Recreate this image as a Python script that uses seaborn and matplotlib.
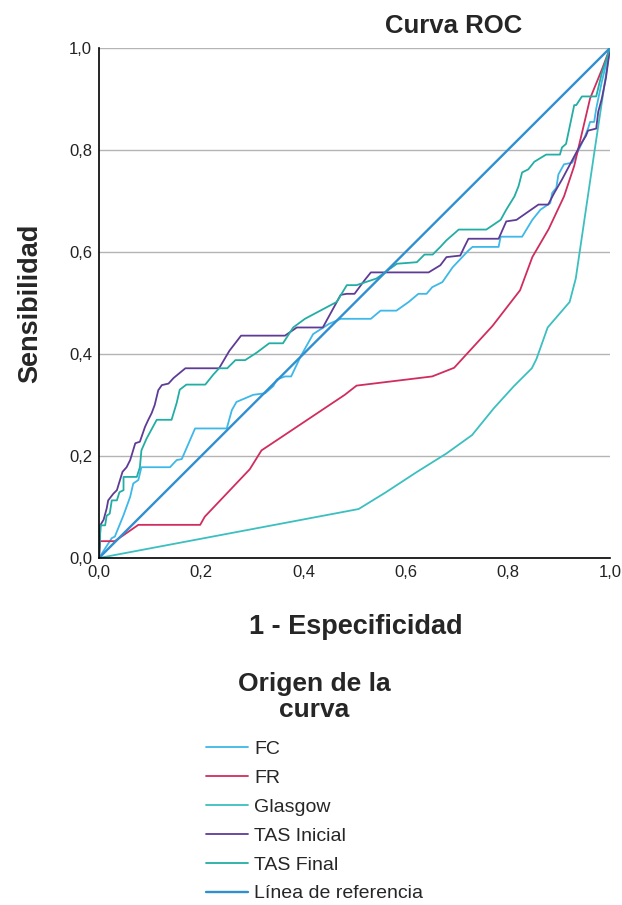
import numpy as np
import pandas as pd
import matplotlib
matplotlib.use("Agg")
import matplotlib.pyplot as plt
import seaborn as sns
from matplotlib.ticker import FuncFormatter

# Curve points (1 - especificidad, sensibilidad)
fc_x = [0.0, 0.025, 0.031, 0.048, 0.061, 0.067, 0.077, 0.083, 0.139, 0.152, 0.162, 0.188, 0.250,
        0.260, 0.269, 0.302, 0.325, 0.341, 0.348, 0.364, 0.376, 0.395, 0.419, 0.450, 0.473, 0.532,
        0.551, 0.582, 0.606, 0.625, 0.641, 0.652, 0.672, 0.692, 0.723, 0.731, 0.782, 0.786, 0.828,
        0.848, 0.864, 0.883, 0.887, 0.895, 0.899, 0.910, 0.926, 0.938, 0.949, 0.957, 0.961, 0.969,
        0.973, 0.984, 1.0]
fc_y = [0.0, 0.039, 0.042, 0.084, 0.120, 0.146, 0.153, 0.178, 0.178, 0.192, 0.194, 0.254, 0.254,
        0.290, 0.306, 0.320, 0.323, 0.337, 0.350, 0.356, 0.356, 0.396, 0.439, 0.459, 0.469, 0.469,
        0.485, 0.485, 0.502, 0.518, 0.518, 0.531, 0.541, 0.570, 0.603, 0.610, 0.610, 0.630, 0.630,
        0.663, 0.683, 0.696, 0.716, 0.726, 0.752, 0.772, 0.775, 0.799, 0.822, 0.842, 0.855, 0.855,
        0.881, 0.934, 1.0]

fr_x = [0.0, 0.002, 0.008, 0.031, 0.077, 0.198, 0.207, 0.295, 0.318, 0.354, 0.481, 0.504, 0.652,
        0.695, 0.770, 0.824, 0.848, 0.880, 0.910, 0.930, 0.961, 0.985, 1.0]
fr_y = [0.0, 0.033, 0.033, 0.033, 0.065, 0.065, 0.081, 0.174, 0.211, 0.235, 0.320, 0.338, 0.356,
        0.373, 0.455, 0.525, 0.590, 0.645, 0.709, 0.769, 0.901, 0.960, 1.0]

glasgow_x = [0.0, 0.508, 0.560, 0.621, 0.680, 0.730, 0.773, 0.812, 0.847, 0.856, 0.878, 0.921,
             0.933, 0.970, 1.0]
glasgow_y = [0.0, 0.096, 0.128, 0.168, 0.205, 0.241, 0.294, 0.337, 0.372, 0.390, 0.452, 0.502,
             0.548, 0.800, 1.0]

tas_ini_x = [0.0, 0.003, 0.009, 0.015, 0.018, 0.028, 0.035, 0.046, 0.054, 0.061, 0.071, 0.080,
             0.090, 0.096, 0.103, 0.109, 0.116, 0.123, 0.136, 0.146, 0.169, 0.235, 0.255, 0.278,
             0.364, 0.387, 0.438, 0.473, 0.485, 0.500, 0.520, 0.532, 0.645, 0.668, 0.680, 0.707,
             0.715, 0.723, 0.782, 0.797, 0.817, 0.860, 0.879, 0.891, 0.906, 0.934, 0.945, 0.953,
             0.957, 0.973, 0.977, 0.984, 0.992, 1.0]
tas_ini_y = [0.0, 0.065, 0.075, 0.097, 0.113, 0.126, 0.133, 0.169, 0.178, 0.192, 0.225, 0.228,
             0.257, 0.270, 0.284, 0.300, 0.329, 0.339, 0.342, 0.353, 0.372, 0.372, 0.406, 0.436,
             0.436, 0.452, 0.452, 0.516, 0.518, 0.518, 0.545, 0.560, 0.560, 0.574, 0.590, 0.593,
             0.610, 0.626, 0.626, 0.660, 0.663, 0.693, 0.693, 0.716, 0.742, 0.795, 0.815, 0.828,
             0.838, 0.842, 0.875, 0.901, 0.941, 1.0]

tas_fin_x = [0.0, 0.003, 0.012, 0.015, 0.021, 0.025, 0.035, 0.040, 0.048, 0.048, 0.074, 0.080,
             0.083, 0.093, 0.113, 0.142, 0.152, 0.158, 0.171, 0.208, 0.224, 0.235, 0.251, 0.267,
             0.286, 0.309, 0.333, 0.360, 0.380, 0.403, 0.465, 0.485, 0.504, 0.543, 0.583, 0.622,
             0.637, 0.653, 0.668, 0.680, 0.704, 0.758, 0.786, 0.797, 0.813, 0.821, 0.828, 0.840,
             0.852, 0.875, 0.902, 0.906, 0.914, 0.930, 0.934, 0.945, 0.973, 0.984, 1.0]
tas_fin_y = [0.0, 0.064, 0.064, 0.083, 0.087, 0.113, 0.113, 0.129, 0.133, 0.159, 0.159, 0.178,
             0.211, 0.234, 0.271, 0.271, 0.304, 0.330, 0.340, 0.340, 0.360, 0.372, 0.372, 0.388,
             0.388, 0.403, 0.421, 0.421, 0.452, 0.469, 0.502, 0.535, 0.535, 0.548, 0.577, 0.580,
             0.595, 0.595, 0.610, 0.623, 0.644, 0.644, 0.663, 0.683, 0.709, 0.729, 0.756, 0.762,
             0.777, 0.791, 0.791, 0.805, 0.812, 0.888, 0.888, 0.905, 0.905, 0.951, 1.0]

ref_x = [0.0, 1.0]
ref_y = [0.0, 1.0]

labels = ["FC", "FR", "Glasgow", "TAS Inicial", "TAS Final", "Línea de referencia"]
colors = ["#3db8e8", "#d12c5e", "#3bbfbf", "#5e3c96", "#22aea4", "#2f8fd0"]
widths = [1.3, 1.3, 1.3, 1.3, 1.3, 1.7]

sns.set_theme(style="white")
plt.rcParams["font.family"] = ["Liberation Sans", "DejaVu Sans"]

fig = plt.figure(figsize=(6.22, 9.05), dpi=100)
ax = fig.add_axes([99 / 622, 1 - 558 / 905, 511 / 622, 510 / 905])

series = [(fc_x, fc_y), (fr_x, fr_y), (glasgow_x, glasgow_y),
          (tas_ini_x, tas_ini_y), (tas_fin_x, tas_fin_y), (ref_x, ref_y)]
for (xs, ys), lab, col, lw in zip(series, labels, colors, widths):
    df = pd.DataFrame({"x": xs, "y": ys})
    sns.lineplot(data=df, x="x", y="y", ax=ax, color=col, linewidth=lw,
                 estimator=None, sort=False, label=lab)

ax.set_xlim(0, 1)
ax.set_ylim(0, 1)
ax.set_xticks(np.arange(0, 1.01, 0.2))
ax.set_yticks(np.arange(0, 1.01, 0.2))
fmt = FuncFormatter(lambda v, p: f"{v:.1f}".replace(".", ","))
ax.xaxis.set_major_formatter(fmt)
ax.yaxis.set_major_formatter(fmt)
ax.tick_params(axis="both", length=0, labelsize=12, colors="#222222", pad=5)
ax.yaxis.grid(True, color="#b4b4b4", linewidth=1)
ax.set_axisbelow(True)
for s in ["top", "right"]:
    ax.spines[s].set_visible(False)
for s in ["left", "bottom"]:
    ax.spines[s].set_color("black")
    ax.spines[s].set_linewidth(1.2)

ax.set_xlabel("")
ax.set_ylabel("")
fig.text(356 / 622, 1 - 627 / 905, "1 - Especificidad", fontsize=19.5, fontweight="bold",
         ha="center", va="center")
fig.text(30 / 622, 1 - 303 / 905, "Sensibilidad", fontsize=19.5, fontweight="bold",
         ha="center", va="center", rotation=90)
fig.text(454 / 622, 1 - 26 / 905, "Curva ROC", fontsize=18.5, fontweight="bold",
         ha="center", va="center")

handles, labs = ax.get_legend_handles_labels()
ax.get_legend().remove()
leg = fig.legend(handles, labs, title="Origen de la\ncurva", loc="upper left",
                 bbox_to_anchor=(188 / 622, 1 - 654 / 905), frameon=False,
                 fontsize=14, handlelength=2.2, handletextpad=0.3, labelspacing=0.58,
                 title_fontproperties={"size": 19, "weight": "bold"})
leg._legend_box.align = "center"
leg._legend_box.sep = 13
leg.get_title().set_multialignment("center")
leg.get_title().set_linespacing(1.15)

fig.savefig("out.png", dpi=100)
